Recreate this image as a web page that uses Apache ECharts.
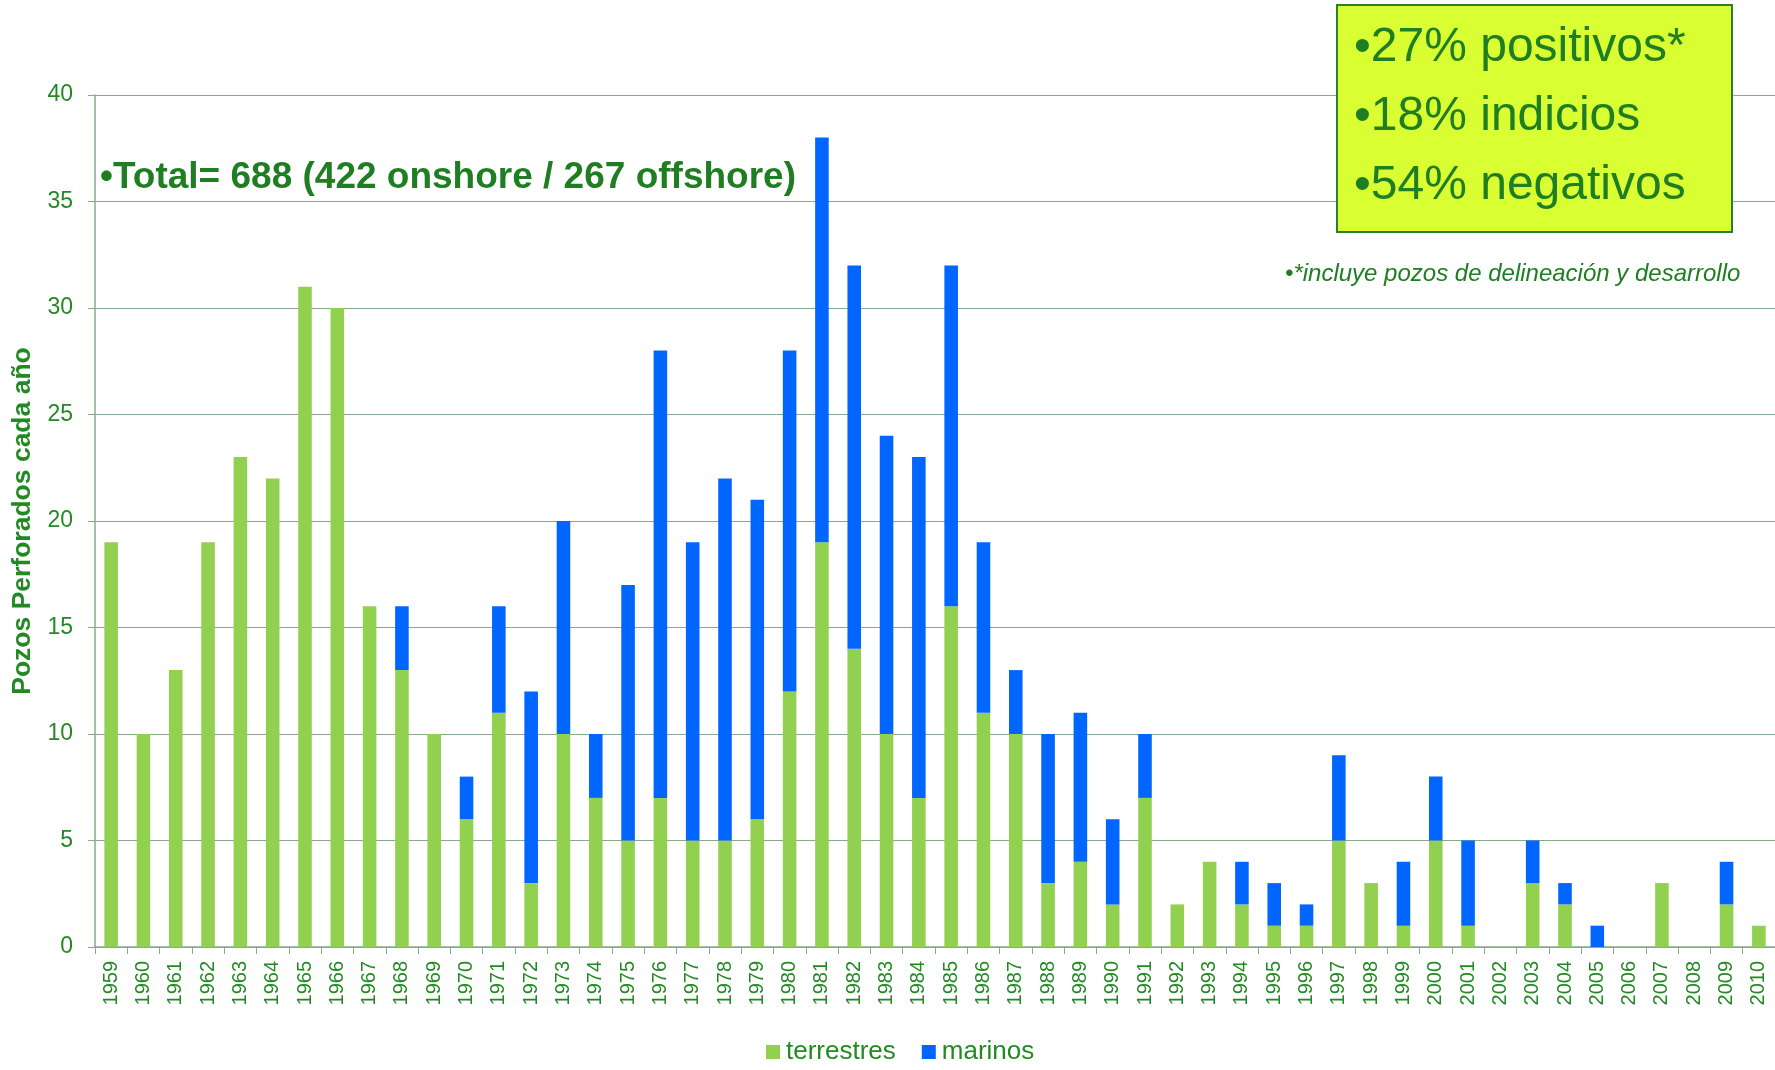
<!DOCTYPE html>
<html>
<head>
<meta charset="utf-8">
<script src="https://cdn.jsdelivr.net/npm/echarts@6/dist/echarts.min.js"></script>
<style>html,body{margin:0;padding:0;background:#fff}#c{width:1775px;height:1070px}</style>
</head>
<body>
<div id="c"></div>
<script>
const years = ['1959','1960','1961','1962','1963','1964','1965','1966','1967','1968','1969','1970','1971','1972','1973','1974','1975','1976','1977','1978','1979','1980','1981','1982','1983','1984','1985','1986','1987','1988','1989','1990','1991','1992','1993','1994','1995','1996','1997','1998','1999','2000','2001','2002','2003','2004','2005','2006','2007','2008','2009','2010'];
const terrestres = [19,10,13,19,23,22,31,30,16,13,10,6,11,3,10,7,5,7,5,5,6,12,19,14,10,7,16,11,10,3,4,2,7,2,4,2,1,1,5,3,1,5,1,0,3,2,0,0,3,0,2,1];
const marinos = [0,0,0,0,0,0,0,0,0,3,0,2,5,9,10,3,12,21,14,17,15,16,19,18,14,16,16,8,3,7,7,4,3,0,0,2,2,1,4,0,3,3,4,0,2,1,1,0,0,0,2,0];
const yTicks = { min: 0, max: 40, interval: 5 };
const txtGreen = '#238a23';
const darkGreen = '#1f7d22';
const FF = 'Liberation Sans, Arial, sans-serif';
const chart = echarts.init(document.getElementById('c'));
chart.setOption({
  animation: false,
  textStyle: { fontFamily: FF },
  grid: { left: 95, right: 0, top: 95, bottom: 123, containLabel: false },
  legend: {
    bottom: 0, left: 761, itemWidth: 14, itemHeight: 14, itemGap: 26,
    icon: 'rect',
    textStyle: { color: txtGreen, fontSize: 26, fontFamily: FF, padding: [0, 0, 0, 1] },
    data: ['terrestres', 'marinos']
  },
  xAxis: {
    type: 'category', data: years,
    axisLine: { lineStyle: { color: '#8aa88a', width: 1.5 } },
    axisTick: { show: true, length: 7, lineStyle: { color: '#8aa88a' } },
    axisLabel: { rotate: 90, color: txtGreen, fontSize: 20, margin: 14, interval: 0 }
  },
  yAxis: {
    type: 'value', min: yTicks.min, max: yTicks.max, interval: yTicks.interval,
    name: 'Pozos Perforados cada año', nameLocation: 'middle', nameGap: 58,
    nameTextStyle: { color: txtGreen, fontSize: 26.5, fontWeight: 'bold' },
    axisLine: { show: true, lineStyle: { color: '#8aa88a', width: 1.5 } },
    axisTick: { show: true, length: 7, lineStyle: { color: '#8aa88a' } },
    axisLabel: { color: txtGreen, fontSize: 23, margin: 22 },
    splitLine: { lineStyle: { color: '#8aa88a', width: 1.2 } }
  },
  series: [
    { name: 'terrestres', type: 'bar', stack: 't', data: terrestres, barWidth: '42%', itemStyle: { color: '#92d050' } },
    { name: 'marinos', type: 'bar', stack: 't', data: marinos, barWidth: '42%', itemStyle: { color: '#0066ff' } }
  ],
  graphic: [
    { type: 'text', x: 100, y: 178, style: { text: '•Total= 688 (422 onshore / 267 offshore)', fill: darkGreen, font: 'bold 37px ' + FF, textVerticalAlign: 'middle' } },
    { type: 'rect', shape: { x: 1337, y: 5, width: 395, height: 227 }, style: { fill: '#d9ff33', stroke: '#2e7d2e', lineWidth: 2 }, z: 10 },
    { type: 'text', x: 1354, y: 48, z: 11, style: { text: '•27% positivos*', fill: darkGreen, font: '48px ' + FF, textVerticalAlign: 'middle' } },
    { type: 'text', x: 1354, y: 117, z: 11, style: { text: '•18% indicios', fill: darkGreen, font: '48px ' + FF, textVerticalAlign: 'middle' } },
    { type: 'text', x: 1354, y: 186, z: 11, style: { text: '•54% negativos', fill: darkGreen, font: '48px ' + FF, textVerticalAlign: 'middle' } },
    { type: 'text', x: 1285, y: 274, style: { text: '•*incluye pozos de delineación y desarrollo', fill: darkGreen, font: 'italic 24px ' + FF, textVerticalAlign: 'middle' } }
  ]
});
</script>
</body>
</html>
